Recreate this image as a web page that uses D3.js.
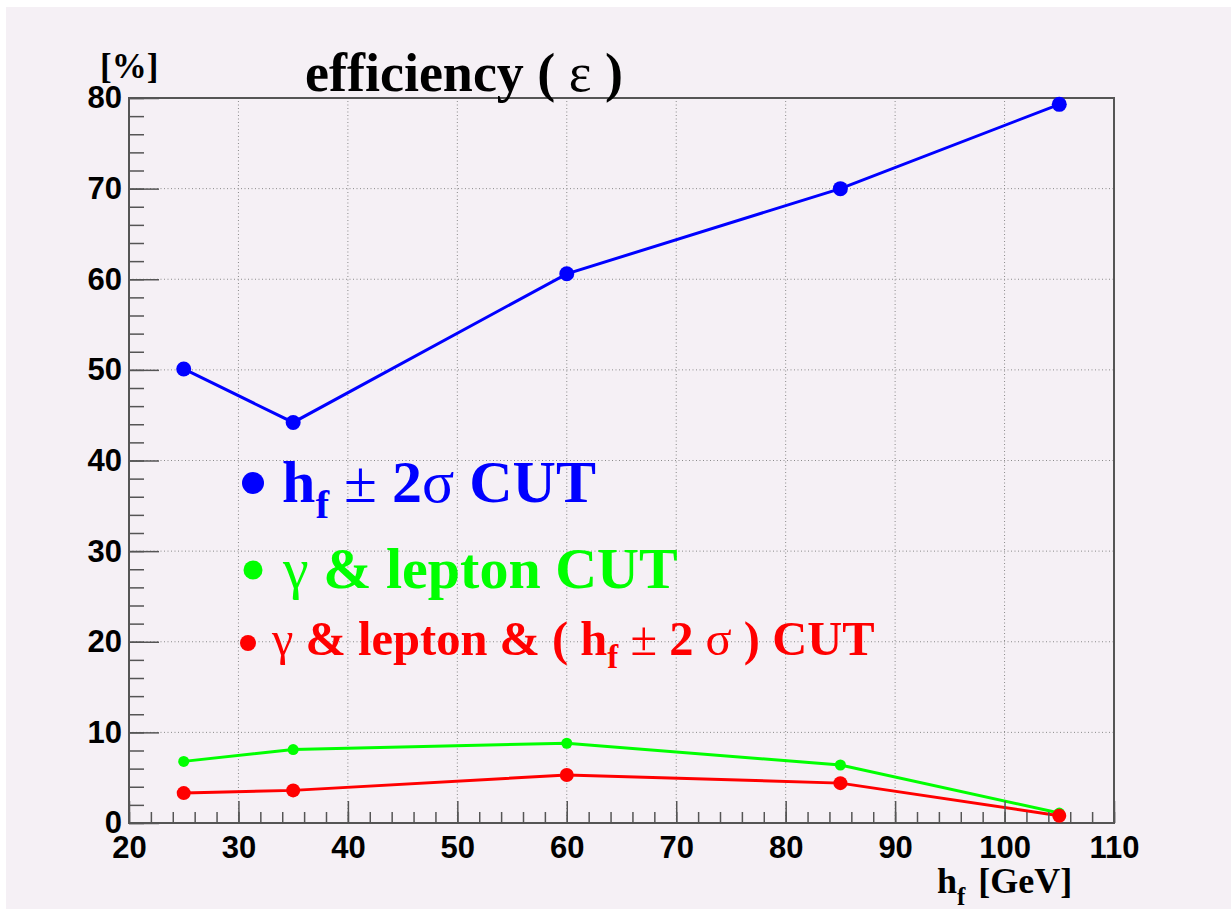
<!DOCTYPE html>
<html>
<head>
<meta charset="utf-8">
<script src="https://cdn.jsdelivr.net/npm/d3@7"></script>
<style>
  html, body { margin: 0; padding: 0; background: #ffffff; }
  svg { display: block; }
  .serif { font-family: "Liberation Serif", "Times New Roman", serif; }
  .sans { font-family: "Liberation Sans", Arial, sans-serif; font-weight: bold; }
</style>
</head>
<body>
<svg id="chart" width="1231" height="909"></svg>
<script>
// Higgs-candidate mass points (GeV)
const masses = [25, 35, 60, 85, 105];

// Efficiencies in percent for each selection
const effMassWindow = [50.1, 44.2, 60.6, 70.0, 79.3];   // h_f ± 2σ cut
const effGammaLepton = [6.8, 8.1, 8.8, 6.4, 1.1];       // γ & lepton cut
const effCombined   = [3.3, 3.6, 5.3, 4.4, 0.8];        // γ & lepton & (h_f ± 2σ) cut

// Axis ticks
const xMajorTicks = [20, 30, 40, 50, 60, 70, 80, 90, 100, 110];
const yMajorTicks = [0, 10, 20, 30, 40, 50, 60, 70, 80];
const xMinorTicks = d3.range(20, 110.01, 2);
const yMinorTicks = d3.range(0, 80.01, 2);

const svg = d3.select("#chart");
const bg = "#f5f0f5";

// canvas background
svg.append("rect").attr("x", 6).attr("y", 7).attr("width", 1231 - 6).attr("height", 909 - 7).attr("fill", bg);

const x = d3.scaleLinear().domain([20, 110]).range([129, 1114]);
const y = d3.scaleLinear().domain([0, 80]).range([823, 98]);

// dotted grid
const grid = svg.append("g").attr("stroke", "#8a8a8a").attr("stroke-width", 1).attr("stroke-dasharray", "1,2.5");
grid.selectAll("line.gx").data(xMajorTicks.slice(1, -1)).join("line")
  .attr("x1", d => x(d)).attr("x2", d => x(d)).attr("y1", y(0)).attr("y2", y(80));
grid.selectAll("line.gy").data(yMajorTicks.slice(1, -1)).join("line")
  .attr("x1", x(20)).attr("x2", x(110)).attr("y1", d => y(d)).attr("y2", d => y(d));

// data series
const series = [
  { values: effMassWindow,  color: "#0000ff", r: 7.5 },
  { values: effGammaLepton, color: "#00ff00", r: 5.5 },
  { values: effCombined,    color: "#ff0000", r: 7 }
];

const line = d3.line().x(d => x(d[0])).y(d => y(d[1]));
series.forEach(s => {
  svg.append("path")
    .datum(masses.map((m, i) => [m, s.values[i]]))
    .attr("d", line)
    .attr("fill", "none")
    .attr("stroke", s.color)
    .attr("stroke-width", 3);
});

// frame
svg.append("rect")
  .attr("x", x(20)).attr("y", y(80))
  .attr("width", x(110) - x(20)).attr("height", y(0) - y(80))
  .attr("fill", "none").attr("stroke", "#555555").attr("stroke-width", 2);

// x axis: major ticks with labels, minor ticks
const axisColor = "#555555";
const gx = svg.append("g").attr("transform", `translate(0,${y(0)})`)
  .call(d3.axisBottom(x).tickValues(xMajorTicks).tickSize(-22).tickPadding(13).tickFormat(d3.format("d")));
gx.select(".domain").remove();
gx.selectAll(".tick line").attr("stroke", axisColor).attr("stroke-width", 1.5);
gx.selectAll(".tick text").attr("class", "sans").attr("font-size", 31).attr("fill", "#000");

const gxm = svg.append("g").attr("transform", `translate(0,${y(0)})`)
  .call(d3.axisBottom(x).tickValues(xMinorTicks).tickSize(-11).tickFormat(""));
gxm.select(".domain").remove();
gxm.selectAll(".tick line").attr("stroke", axisColor).attr("stroke-width", 1.5);

// y axis
const gy = svg.append("g").attr("transform", `translate(${x(20)},0)`)
  .call(d3.axisLeft(y).tickValues(yMajorTicks).tickSize(-30).tickPadding(7).tickFormat(d3.format("d")));
gy.select(".domain").remove();
gy.selectAll(".tick line").attr("stroke", axisColor).attr("stroke-width", 1.5);
gy.selectAll(".tick text").attr("class", "sans").attr("font-size", 31).attr("fill", "#000");

const gym = svg.append("g").attr("transform", `translate(${x(20)},0)`)
  .call(d3.axisLeft(y).tickValues(yMinorTicks).tickSize(-15).tickFormat(""));
gym.select(".domain").remove();
gym.selectAll(".tick line").attr("stroke", axisColor).attr("stroke-width", 1.5);

// markers
series.forEach(s => {
  svg.append("g").selectAll("circle")
    .data(masses.map((m, i) => [m, s.values[i]]))
    .join("circle")
    .attr("cx", d => x(d[0])).attr("cy", d => y(d[1]))
    .attr("r", s.r).attr("fill", s.color);
});

// title
const title = svg.append("text").attr("class", "serif").attr("x", 305).attr("y", 91)
  .attr("font-size", 54).attr("font-weight", "bold").attr("fill", "#000");
title.append("tspan").text("efficiency ( ");
title.append("tspan").attr("font-weight", "normal").text("ε");
title.append("tspan").text(" )");

// y unit
svg.append("text").attr("class", "serif").attr("x", 100).attr("y", 78)
  .attr("font-size", 35).attr("font-weight", "bold").attr("fill", "#000").text("[%]");

// x axis title
const xt = svg.append("text").attr("class", "serif").attr("x", 937).attr("y", 893)
  .attr("font-size", 36).attr("font-weight", "bold").attr("fill", "#000");
xt.append("tspan").text("h");
xt.append("tspan").attr("font-size", 25).attr("dy", 12).text("f");
xt.append("tspan").attr("dy", -12).attr("dx", 4).text(" [GeV]");

// legend entries
function legendEntry(cx, cy, r, color, tx, ty, size, parts) {
  svg.append("circle").attr("cx", cx).attr("cy", cy).attr("r", r).attr("fill", color);
  const t = svg.append("text").attr("class", "serif").attr("x", tx).attr("y", ty)
    .attr("font-size", size).attr("font-weight", "bold").attr("fill", color);
  parts.forEach(p => {
    const ts = t.append("tspan").text(p.t);
    if (p.sub) ts.attr("font-size", size * 0.68).attr("dy", size * 0.26);
    if (p.up) ts.attr("dy", -size * 0.26);
    if (p.normal) ts.attr("font-weight", "normal");
  });
}

legendEntry(253, 483, 11, "#0000ff", 282, 502, 60, [
  { t: "h" }, { t: "f", sub: true }, { t: " ±", up: true, normal: true },
  { t: " 2" }, { t: "σ", normal: true }, { t: " CUT" }
]);

legendEntry(253, 570, 9.5, "#00ff00", 283, 588, 58, [
  { t: "γ", normal: true }, { t: " & lepton CUT" }
]);

legendEntry(248, 643, 8, "#ff0000", 272, 655, 48.5, [
  { t: "γ", normal: true }, { t: " & lepton & ( h" }, { t: "f", sub: true },
  { t: " ±", up: true, normal: true }, { t: " 2 " }, { t: "σ", normal: true }, { t: " ) CUT" }
]);
</script>
</body>
</html>
